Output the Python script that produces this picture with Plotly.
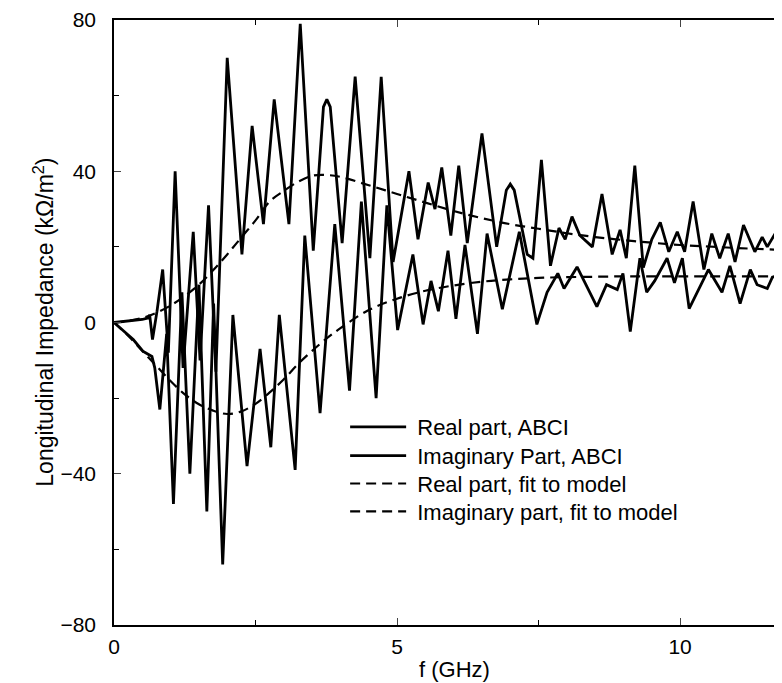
import plotly.graph_objects as go

# ---- data ----
f_real = [0, 0.25, 0.5, 0.6, 0.63, 0.68, 0.76, 0.86, 0.96, 1.08, 1.22, 1.40, 1.52, 1.67, 1.8, 2.0,
          2.26, 2.44, 2.64, 2.83, 3.09, 3.29, 3.52, 3.7, 3.76, 3.82, 4.03, 4.26, 4.52, 4.72, 4.93,
          5.21, 5.37, 5.55, 5.67, 5.79, 5.95, 6.09, 6.24, 6.5, 6.76, 6.93, 7.0, 7.07, 7.3, 7.4, 7.55,
          7.71, 7.86, 7.97, 8.09, 8.23, 8.45, 8.62, 8.8, 8.94, 9.05, 9.2, 9.35, 9.5, 9.65, 9.8, 9.95,
          10.08, 10.23, 10.42, 10.56, 10.7, 10.85, 10.97, 11.12, 11.32, 11.45, 11.54, 11.66, 11.8]
z_real = [0, 0.4, 0.8, 1.2, 2.0, -4.5, 3, 14, -8, 40, -12, 24, -10, 31, -13, 70,
          18, 52, 26, 59, 26, 79, 19, 57, 59, 57, 21, 65, 17, 65, 16,
          40, 22, 37, 30, 41, 23, 41.5, 21, 50, 20, 35, 36.6, 35, 18, 17, 43,
          15, 25, 22, 28, 23, 20, 34, 18, 24.5, 17, 41.5, 14.5, 22, 26.5, 18.7, 24,
          18.7, 32, 14, 23.5, 17, 23.5, 16, 25.8, 18.7, 22.6, 20, 23, 20.5]

f_imag = [0, 0.34, 0.51, 0.67, 0.72, 0.81, 0.93, 1.05, 1.2, 1.34, 1.5, 1.64, 1.76, 1.92, 2.1,
          2.35, 2.58, 2.77, 2.92, 3.2, 3.37, 3.64, 3.9, 4.16, 4.37, 4.63, 4.82, 5.01, 5.28, 5.46,
          5.6, 5.73, 5.9, 6.04, 6.2, 6.42, 6.59, 6.86, 7.16, 7.47, 7.65, 7.84, 7.95, 8.18, 8.53,
          8.7, 8.89, 8.99, 9.12, 9.29, 9.41, 9.55, 9.77, 9.9, 10.04, 10.16, 10.5, 10.74, 10.88,
          11.06, 11.24, 11.36, 11.54, 11.63, 11.8]
z_imag = [0, -4.5, -7.6, -9, -12, -23, -3, -48, 8, -40, 10, -50, 5, -64, 2,
          -38, -7, -33, 2, -39, 23, -24, 26, -18, 32, -20, 31, -2, 18, -0.5,
          11, 3, 19, 1, 20.5, -3, 23.5, 3.5, 24, -0.5, 8, 13, 9, 14.7, 4.2,
          10, 8.7, 13, -2.4, 17, 8, 11, 17, 10.5, 17, 3.7, 14, 8, 15,
          5, 14, 10, 9, 12, 12.6]

f_fit = [0, 0.25, 0.5, 0.75, 1.0, 1.25, 1.5, 1.75, 2.0, 2.25, 2.5, 2.75, 3.0, 3.25, 3.5, 3.75,
         4.0, 4.5, 5.0, 5.5, 6.0, 6.5, 7.0, 7.5, 8.0, 8.5, 9.0, 9.5, 10.0, 10.5, 11.0, 11.8]
real_fit = [0, 0.4, 1.2, 2.6, 4.5, 7, 10, 13.8, 18, 22.5, 27, 32, 34.8, 37.2, 38.8, 39,
            38.5, 36.3, 34, 31.7, 29.5, 27.6, 26, 24.8, 23.6, 22.6, 21.8, 21.1, 20.5, 20.1, 19.7, 19.2]
imag_fit = [0, -3.5, -7.5, -11.5, -15.5, -19, -21.6, -23.3, -24.2, -23.5, -21.5, -18.5, -15, -11,
            -7.5, -4.3, -1.5, 3.3, 6.3, 8.4, 9.8, 10.8, 11.4, 11.8, 12, 12.1, 12.2, 12.2, 12.2,
            12.2, 12.2, 12.2]

legend_names = ["Real part, ABCI", "Imaginary Part, ABCI",
                "Real part, fit to model", "Imaginary part, fit to model"]

x_ticks = [0, 5, 10]
y_ticks = [-80, -40, 0, 40, 80]

FONT = "Arial, Liberation Sans, Helvetica, sans-serif"

series = [
    (f_real, z_real, dict(color="black", width=2.8), "linear"),
    (f_imag, z_imag, dict(color="black", width=2.8), "linear"),
    (f_fit, real_fit, dict(color="black", width=2.2, dash="10px,6px"), "spline"),
    (f_fit, imag_fit, dict(color="black", width=2.2, dash="10px,6px"), "spline"),
]

fig = go.Figure()
legend_ids = ["legend", "legend2", "legend3", "legend4"]
for (xs, ys, ln, shape), name, lid in zip(series, legend_names, legend_ids):
    fig.add_trace(go.Scatter(x=xs, y=ys, mode="lines", name="\u00a0" + name, line=ln,
                             line_shape=shape, legend=lid))

# one legend box per row so the row spacing matches the reference
row_centers_px = [426, 455, 483, 511]
legend_layout = {}
for lid, yc in zip(legend_ids, row_centers_px):
    legend_layout[lid] = dict(x=0.346, y=(625 - yc) / 608, xanchor="left", yanchor="middle",
                              bgcolor="rgba(0,0,0,0)", font=dict(size=22), itemwidth=56)

fig.update_layout(
    width=774, height=675,
    margin=dict(l=106, r=0, t=9, b=58),
    paper_bgcolor="white", plot_bgcolor="white",
    font=dict(family=FONT, size=21, color="black"),
    showlegend=True,
    annotations=[
        dict(text="f (GHz)", x=0.509, y=-0.074, xref="paper", yref="paper",
             xanchor="center", yanchor="middle", showarrow=False, font=dict(size=22)),
        dict(text="Longitudinal Impedance (kΩ/m<sup>2</sup>)", x=-0.106, y=0.5,
             xref="paper", yref="paper", xanchor="center", yanchor="middle",
             textangle=-90, showarrow=False, font=dict(size=23)),
    ],
    **legend_layout,
)
fig.update_xaxes(range=[0, 11.8], tickvals=x_ticks, ticks="inside", ticklen=7, tickwidth=1.2,
                 showline=True, linecolor="black", linewidth=1.5, mirror="ticks",
                 showgrid=False, zeroline=False, tickfont=dict(size=21), ticklabelstandoff=2,
                 ticklabeloverflow="allow",
                 minor=dict(tickvals=[2.5, 7.5], ticks="inside", ticklen=5, tickcolor="black"))
fig.update_yaxes(range=[-80, 80], tickvals=y_ticks, ticks="inside", ticklen=7, tickwidth=1.2,
                 showline=True, linecolor="black", linewidth=1.5, mirror=False,
                 showgrid=False, zeroline=False, tickfont=dict(size=21), ticklabelstandoff=12,
                 ticklabeloverflow="allow",
                 minor=dict(tickvals=[-60, -20, 20, 60], ticks="inside", ticklen=5, tickcolor="black"))

fig.write_html("out.html")
